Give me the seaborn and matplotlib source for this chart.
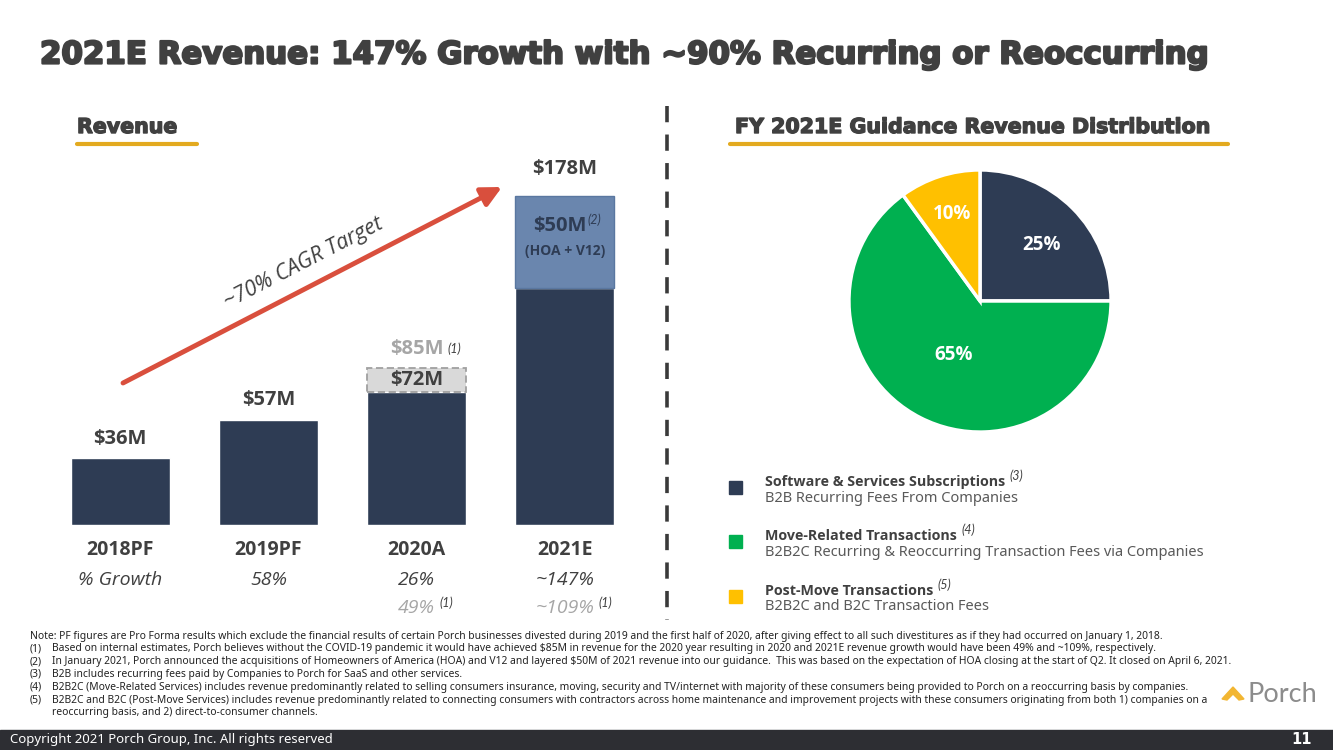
import matplotlib
matplotlib.use("Agg")
import matplotlib.pyplot as plt
import matplotlib.patheffects as pe
import seaborn as sns
import pandas as pd
from matplotlib.patches import Rectangle, Polygon
from matplotlib.lines import Line2D

# ---------------- data ----------------
categories = ["2018PF", "2019PF", "2020A", "2021E"]
base_revenue = [36, 57, 72, 128]        # $M organic / reported
acquired_revenue = [0, 0, 0, 50]        # HOA + V12 layered into 2021E guidance
covid_uplift = [0, 0, 13, 0]            # 2020 estimate without COVID ($85M)
total_labels = ["$36M", "$57M", "$85M", "$178M"]
growth_labels = ["% Growth", "58%", "26%", "~147%"]
growth_adj_labels = ["", "", "49%", "~109%"]

pie_names = ["Software & Services Subscriptions", "Move-Related Transactions", "Post-Move Transactions"]
pie_subs = ["B2B Recurring Fees From Companies",
            "B2B2C Recurring & Reoccurring Transaction Fees via Companies",
            "B2B2C and B2C Transaction Fees"]
pie_notes = ["(3)", "(4)", "(5)"]
pie_values = [25, 65, 10]

footnotes = [
    ("Note:", "PF figures are Pro Forma results which exclude the financial results of certain Porch businesses divested during 2019 and the first half of 2020, after giving effect to all such divestitures as if they had occurred on January 1, 2018."),
    ("(1)", "Based on internal estimates, Porch believes without the COVID-19 pandemic it would have achieved $85M in revenue for the 2020 year resulting in 2020 and 2021E revenue growth would have been 49% and ~109%, respectively."),
    ("(2)", "In January 2021, Porch announced the acquisitions of Homeowners of America (HOA) and V12 and layered $50M of 2021 revenue into our guidance.  This was based on the expectation of HOA closing at the start of Q2. It closed on April 6, 2021."),
    ("(3)", "B2B includes recurring fees paid by Companies to Porch for SaaS and other services."),
    ("(4)", "B2B2C (Move-Related Services) includes revenue predominantly related to selling consumers insurance, moving, security and TV/internet with majority of these consumers being provided to Porch on a reoccurring basis by companies."),
    ("(5)", "B2B2C and B2C (Post-Move Services) includes revenue predominantly related to connecting consumers with contractors across home maintenance and improvement projects with these consumers originating from both 1) companies on a"),
    ("", "reoccurring basis, and 2) direct-to-consumer channels."),
]

# ---------------- style ----------------
NAVY = "#2E3C54"
LIGHTBLUE = "#6A86AE"
GREEN = "#00B050"
YELLOW = "#FFC000"
GOLD = "#E3AA1F"
DARKTXT = "#404040"
GREYTXT = "#A6A6A6"
RED = "#D94F3D"

sns.set_theme(style="white")
plt.rcParams["font.family"] = ["Lato", "DejaVu Sans"]
plt.rcParams["text.parse_math"] = False

W, H = 1333, 750
fig = plt.figure(figsize=(W / 100, H / 100), dpi=100)
fig.patch.set_facecolor("white")

# overlay axes in pixel coordinates
bg = fig.add_axes([0, 0, 1, 1], zorder=0)
bg.set_xlim(0, W)
bg.set_ylim(H, 0)
bg.axis("off")
bg.patch.set_alpha(0)

heavy = [pe.Stroke(linewidth=1.6, foreground=DARKTXT), pe.Normal()]
heavy_s = [pe.Stroke(linewidth=1.0, foreground=DARKTXT), pe.Normal()]

# Title
bg.text(40, 55, "2021E Revenue: 147% Growth with ~90% Recurring or Reoccurring",
        fontsize=22.2, fontweight="bold", color=DARKTXT, family=["DejaVu Sans"],
        va="center", ha="left", path_effects=heavy)

# Section headers
bg.text(77, 127, "Revenue", fontsize=14.8, fontweight="bold", color=DARKTXT,
        family=["DejaVu Sans"], va="center", ha="left", path_effects=heavy_s)
bg.add_line(Line2D([77, 197], [144, 144], color=GOLD, lw=3))
bg.text(735, 127, "FY 2021E Guidance Revenue Distribution", fontsize=14.8, fontweight="bold",
        color=DARKTXT, family=["DejaVu Sans"], va="center", ha="left", path_effects=heavy_s)
bg.add_line(Line2D([730, 1228], [144, 144], color=GOLD, lw=3))

# dashed separator
bg.add_line(Line2D([667, 667], [106, 620], color="#3A3A3A", lw=2.6, dashes=(4.5, 3.4)))

# CAGR arrow
bg.annotate("", xy=(502, 187), xytext=(123, 383),
            arrowprops=dict(arrowstyle="-|>,head_length=1.0,head_width=0.5", color=RED, lw=3.5,
                            shrinkA=0, shrinkB=0))
bg.text(303, 263, "~70% CAGR Target", fontsize=15.5, style="italic", color=DARKTXT,
        rotation=27.3, rotation_mode="anchor", ha="center", va="center",
        family=["Open Sans", "DejaVu Sans"])

# ---------------- bar chart ----------------
df = pd.DataFrame({"category": categories, "base": base_revenue,
                   "acquired": acquired_revenue, "covid": covid_uplift})
ax = fig.add_axes([46 / W, (H - 525) / H, 593 / W, 370 / H], zorder=2)
ax.patch.set_alpha(0)
sns.barplot(data=df, x="category", y="base", color=NAVY, saturation=1, width=0.667, ax=ax)
xs = list(range(len(categories)))
for i in xs:
    if df["covid"][i] > 0:
        ax.bar(i, df["covid"][i], bottom=df["base"][i], width=0.667, color="#D9D9D9",
               edgecolor="#A0A0A0", linestyle=(0, (4, 2)), linewidth=1.3)
    if df["acquired"][i] > 0:
        ax.bar(i, df["acquired"][i], bottom=df["base"][i], width=0.667, color=LIGHTBLUE,
               edgecolor="#5A77A0", linewidth=1)
ax.set_xlim(-0.5, 3.5)
ax.set_ylim(0, 200)
ax.set_yticks([])
ax.set_xlabel("")
ax.set_ylabel("")
for s in ax.spines.values():
    s.set_visible(False)
ax.tick_params(axis="x", length=0, pad=11)
ax.set_xticks(xs)
ax.set_xticklabels(categories, fontsize=14, fontweight="bold", color=DARKTXT,
                   family=["Open Sans", "DejaVu Sans"])

lblfont = dict(fontsize=14.5, fontweight="bold", family=["Open Sans", "DejaVu Sans"])
for i in xs:
    top = df["base"][i] + df["acquired"][i] + df["covid"][i]
    if df["covid"][i] > 0:
        ax.text(i, df["base"][i] + df["covid"][i] / 2, "$%dM" % df["base"][i], ha="center",
                va="center", color=DARKTXT, **lblfont)
        t = ax.annotate(total_labels[i], xy=(i, top), xytext=(0, 6), textcoords="offset points",
                        ha="center", va="bottom", color=GREYTXT, **lblfont)
        ax.annotate("(1)", xy=(1, 1), xycoords=t, xytext=(3, -2), textcoords="offset points",
                    ha="left", va="top", fontsize=9, style="italic", color=DARKTXT)
    elif df["acquired"][i] > 0:
        ax.annotate(total_labels[i], xy=(i, top), xytext=(0, 12), textcoords="offset points",
                    ha="center", va="bottom", color=DARKTXT, **lblfont)
    else:
        ax.annotate(total_labels[i], xy=(i, top), xytext=(0, 7), textcoords="offset points",
                    ha="center", va="bottom", color=DARKTXT, **lblfont)
    if df["acquired"][i] > 0:
        t = ax.annotate("$%dM" % df["acquired"][i], xy=(i, top), xytext=(-4, -22),
                        textcoords="offset points", ha="center", va="center", color=NAVY, **lblfont)
        ax.annotate("(2)", xy=(1, 1), xycoords=t, xytext=(1, 2), textcoords="offset points",
                    ha="left", va="top", fontsize=9, style="italic", color=NAVY)
        ax.annotate("(HOA + V12)", xy=(i, top), xytext=(0, -40), textcoords="offset points",
                    ha="center", va="center", fontsize=10, fontweight="bold", color=NAVY,
                    family=["Open Sans", "DejaVu Sans"])

# growth rows (pixel rows under the axis)
bar_centers_px = [46 + (i + 0.5) * 593 / 4 for i in xs]
for i, cx in enumerate(bar_centers_px):
    bg.text(cx, 580, growth_labels[i], fontsize=14, style="italic", color=DARKTXT,
            ha="center", va="center", family=["Open Sans", "DejaVu Sans"])
    if growth_adj_labels[i]:
        t = bg.text(cx, 608, growth_adj_labels[i], fontsize=14, style="italic", color=GREYTXT,
                    ha="center", va="center", family=["Open Sans", "DejaVu Sans"])
        bg.annotate("(1)", xy=(1, 1), xycoords=t, xytext=(3, 2), textcoords="offset points",
                    ha="left", va="top", fontsize=9, style="italic", color=DARKTXT)

# ---------------- pie ----------------
pax = fig.add_axes([845 / W, (H - 436) / H, 270 / W, 270 / H], zorder=2)
wedges, _ = pax.pie(pie_values, colors=[NAVY, GREEN, YELLOW], startangle=90, counterclock=False,
                    wedgeprops=dict(edgecolor="white", linewidth=2.5))
pax.set_xlim(-1.03, 1.03)
pax.set_ylim(-1.03, 1.03)
pax.set_aspect("equal")
label_pos = [(0.47, 0.43), (-0.2, -0.41), (-0.21, 0.66)]
for (px_, py_), v in zip(label_pos, pie_values):
    pax.text(px_, py_, "%d%%" % v, ha="center", va="center", color="white", fontsize=13.5,
             fontweight="bold", family=["Open Sans", "DejaVu Sans"])

# legend
leg_y = [482, 536, 591]
for (name, sub, note, col, y) in zip(pie_names, pie_subs, pie_notes, [NAVY, GREEN, YELLOW], leg_y):
    bg.add_patch(Rectangle((729, y - 1), 13, 13, color=col))
    t = bg.text(765, y, name, fontsize=10.3, fontweight="bold", color=DARKTXT, ha="left",
                va="center", family=["Open Sans", "DejaVu Sans"])
    bg.annotate(note, xy=(1, 1), xycoords=t, xytext=(3, 4), textcoords="offset points",
                ha="left", va="top", fontsize=9, style="italic", color=DARKTXT)
    bg.text(765, y + 16, sub, fontsize=10.5, color="#595959", ha="left", va="center",
            family=["Noto Sans", "DejaVu Sans"])

# footnotes
fnfont = dict(fontsize=7.45, color="#222222", ha="left", va="center", family=["Noto Sans", "DejaVu Sans"])
for k, (num, txt) in enumerate(footnotes):
    y = 636 + k * 12.8
    if num == "Note:":
        bg.text(30, y, num + " " + txt, **fnfont)
    else:
        if num:
            bg.text(30, y, num, **fnfont)
        bg.text(52, y, txt, **fnfont)

# logo
bg.add_patch(Polygon([(1222, 699), (1233, 687), (1244, 699), (1239, 700), (1233, 694), (1227, 700)],
                     closed=True, color="#F2B632"))
bg.text(1247, 695, "Porch", fontsize=19.5, color="#8C8C8C", ha="left", va="center",
        family=["Lato", "DejaVu Sans"])

# footer
bg.add_patch(Rectangle((0, 730), W, 20, color="#2D2E33"))
bg.text(10, 740, "Copyright 2021 Porch Group, Inc. All rights reserved", fontsize=9.5,
        color="white", ha="left", va="center", family=["Noto Sans", "DejaVu Sans"])
bg.text(1312, 740, "11", fontsize=10.5, fontweight="bold", color="white", ha="right",
        va="center", family=["DejaVu Sans"])

fig.savefig("out.png", dpi=100)
